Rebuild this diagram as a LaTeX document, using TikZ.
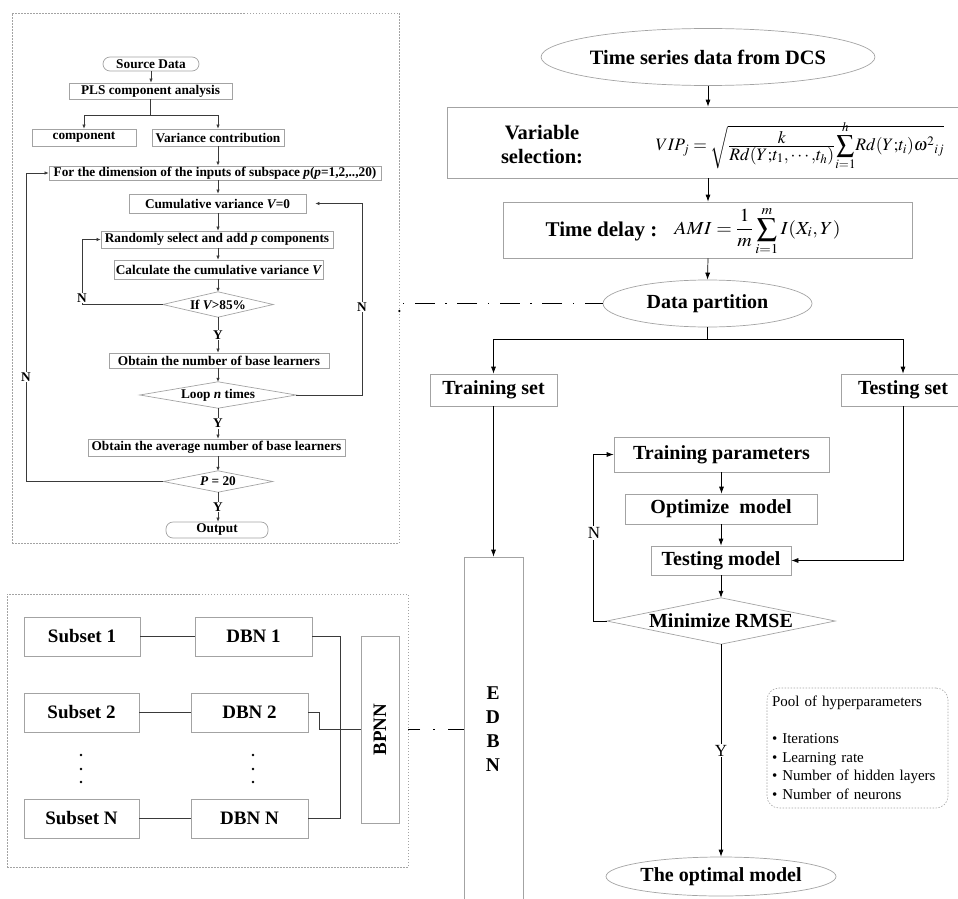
\documentclass[tikz,border=0pt]{standalone}
\usepackage{mathptmx}
\usepackage[no-math]{fontspec}
\setmainfont{Liberation Serif}
\usetikzlibrary{arrows.meta,shapes.geometric}
\definecolor{bord}{HTML}{A3A3A3}
\definecolor{ln}{HTML}{3A3A3A}
\newcommand{\dmd}[1]{\draw[draw=bord,line width=0.7pt] (#1.west)--(#1.north)--(#1.east)--(#1.south)--cycle;}
\begin{document}
\begin{tikzpicture}[x=1pt,y=-1pt,
  box/.style={draw=bord, line width=0.7pt, fill=white, inner sep=1pt, rectangle},
  lf/.style={font=\fontsize{13.3}{15}\selectfont\bfseries},
  rf/.style={font=\fontsize{20}{23}\selectfont\bfseries},
  sf/.style={font=\fontsize{19}{21}\selectfont\bfseries},
  stad/.style={box, rounded corners=7pt},
  ell/.style={ellipse, draw=bord, line width=0.7pt, inner sep=0pt},
  arrL/.style={draw=ln, line width=0.6pt, -{Latex[length=4pt,width=3.4pt]}},
  conL/.style={draw=ln, line width=0.6pt},
  arrR/.style={draw=black, line width=0.7pt, -{Latex[length=7pt,width=5pt]}},
  conR/.style={draw=ln, line width=0.7pt},
  lbl/.style={fill=white, inner sep=1pt},
  rlbl/.style={fill=white, inner sep=1pt, font=\fontsize{17}{19}\selectfont},
  grp/.style={draw=bord, line width=0.6pt, dash pattern=on 1.5pt off 1.5pt, inner sep=0pt},
  dashdot/.style={line width=1.7pt, draw=black},
]
\useasboundingbox (0,0) rectangle (958,899);

% ---------- group boxes ----------
\node[grp, minimum width=387pt, minimum height=530pt] (grpA) at (205.5,278) {};
\node[grp, minimum width=401pt, minimum height=273pt] (grpB) at (207.5,730.5) {};

% ---------- left flowchart ----------
\coordinate (cx) at (218,0);
\node[stad, lf, minimum width=96pt, minimum height=14pt] (src) at (151,64) {Source Data};
\node[box, lf, minimum width=163pt, minimum height=16pt] (pls) at (150.5,91) {PLS component analysis};
\node[box, lf, minimum width=104pt, minimum height=17pt] (comp) at (84,137.5) {component};
\node[box, lf, minimum width=132pt, minimum height=17pt] (varc) at (218,137.5) {Variance contribution};
\node[box, lf, minimum width=332pt, minimum height=14pt] (dim) at (215,173) {For the dimension of the inputs of subspace {\itshape p}({\itshape p}=1,2,..,20)};
\node[box, lf, minimum width=177pt, minimum height=19pt] (cum) at (217.5,203.5) {Cumulative variance {\itshape V}=0};
\node[box, lf, minimum width=232pt, minimum height=17pt] (rnd) at (217,239.5) {Randomly select and add {\itshape p} components};
\node[box, lf, minimum width=209pt, minimum height=19pt] (calc) at (218.5,269.5) {Calculate the cumulative variance {\itshape V}};
\node[lf, inner sep=0pt, minimum width=110pt, minimum height=25pt] (ifv) at (218,304.5) {If {\itshape V}>85\%};
\dmd{ifv}
\node[box, lf, minimum width=220pt, minimum height=15pt] (obt) at (219,360.5) {Obtain the number of base learners};
\node[lf, inner sep=0pt, minimum width=156pt, minimum height=26pt] (loop) at (218,395) {Loop {\itshape n} times};
\dmd{loop}
\node[box, lf, minimum width=257pt, minimum height=17pt] (avg) at (216.5,447.5) {Obtain the average number of base learners};
\node[lf, inner sep=0pt, minimum width=109pt, minimum height=21pt] (p20) at (218,481.5) {{\itshape P} = 20};
\dmd{p20}
\node[stad, lf, minimum width=102pt, minimum height=16pt] (out) at (217,530) {Output};

\coordinate (spl) at (150.5,115);
\draw[arrL] (src.south) -- (src.south |- pls.north);
\draw[conL] (pls.south) -- (spl);
\draw[arrL] (spl) -| (comp.north);
\draw[arrL] (spl) -| (varc.north);
\draw[arrL] (varc.south) -- (varc.south |- dim.north);
\draw[arrL] (cx |- dim.south) -- (cx |- cum.north);
\draw[arrL] (cx |- cum.south) -- (cx |- rnd.north);
\draw[arrL] (cx |- rnd.south) -- (cx |- calc.north);
\draw[arrL] (cx |- calc.south) -- (ifv.north);
\draw[arrL] (ifv.south) -- node[lbl,lf]{Y} (cx |- obt.north);
\draw[arrL] (cx |- obt.south) -- (loop.north);
\draw[arrL] (loop.south) -- node[lbl,lf]{Y} (cx |- avg.north);
\draw[arrL] (cx |- avg.south) -- (p20.north);
\draw[arrL] (p20.south) -- node[lbl,lf]{Y} (cx |- out.north);

\draw[arrL] (ifv.west) -- ++(-81,0) |- (rnd.west);
\node[lbl,lf] (n1) at (82,298) {N};
\draw[arrL] (loop.east) -- ++(66,0) |- ([xshift=9pt]cum.east);
\node[lbl,lf] (n2) at (362,307) {N};
\draw[arrL] (p20.west) -- ++(-137,0) |- (dim.west);
\node[lbl,lf] (n3) at (26,377) {N};

% ---------- bottom-left ensemble ----------
\node[box, sf, minimum width=116pt, minimum height=39pt] (s1) at (82,636.5) {Subset 1};
\node[box, sf, minimum width=117pt, minimum height=39pt] (d1) at (253.5,636.5) {DBN 1};
\node[box, sf, minimum width=115pt, minimum height=39pt] (s2) at (81.5,712.5) {Subset 2};
\node[box, sf, minimum width=117pt, minimum height=39pt] (d2) at (249.5,712.5) {DBN 2};
\node[box, sf, minimum width=115pt, minimum height=39pt] (sn) at (81.5,818.5) {Subset N};
\node[box, sf, minimum width=117pt, minimum height=39pt] (dn) at (249.5,818.5) {DBN N};
\node[box, sf, rotate=90, minimum width=187pt, minimum height=38pt] (bpnn) at (380,729.5) {BPNN};
\foreach \yy in {755,769,782} {\fill (81,\yy) circle (1.4pt); \fill (253,\yy) circle (1.4pt);}
\coordinate (jn) at (340,729.5);
\draw[conR] (s1) -- (d1);
\draw[conR] (s2) -- (d2);
\draw[conR] (sn) -- (dn);
\draw[conR] (d1.east) -| (jn);
\draw[conR] (dn.east) -| (jn);
\draw[conR] (d2.east) -- ++(11,0) |- (bpnn.north);

% ---------- EDBN ----------
\node[box, minimum width=59pt, minimum height=360pt] (edbn) at (493.5,737) {};
\node[font=\fontsize{19.5}{24}\selectfont\bfseries, align=center] (edbnt) at (493,729) {E\\D\\B\\N};

% ---------- right flowchart ----------
\node[ell, font=\fontsize{20.4}{23}\selectfont\bfseries, minimum width=279pt, minimum height=57pt] (ts) at (708,57) {Time series data from DCS};
\node[box, minimum width=518pt, minimum height=71pt] (vs) at (706,142.5) {};
\node[align=center, font=\fontsize{20.5}{24}\selectfont\bfseries] (vsl) at (542,145) {Variable\\selection:};
\node[font=\fontsize{17.5}{20}\selectfont] (vip) at (800,147) {$VIP_j=\sqrt{\frac{\textstyle k}{\textstyle Rd(Y{;}t_1{,}\cdots{,}t_h)}\smash{\displaystyle\sum_{i=1}^{h}}Rd(Y{;}t_i)\omega^{2}{}_{ij}}$};
\node[box, minimum width=409pt, minimum height=56pt] (td) at (707.5,230) {};
\node[font=\fontsize{21}{24}\selectfont\bfseries] (tdl) at (601.5,231) {Time delay :};
\node[font=\fontsize{20}{23}\selectfont] (ami) at (757.5,231) {\scalebox{1}[0.92]{$\displaystyle AMI=\frac{1}{m}\sum_{i=1}^{m}I(X_i,Y)$}};
\node[ell, rf, minimum width=209pt, minimum height=47pt] (dp) at (707.5,303.5) {Data partition};
\node[box, rf, minimum width=127pt, minimum height=32pt] (trs) at (493.5,390) {Training set};
\node[box, rf, minimum width=124pt, minimum height=32pt] (tes) at (903,390) {Testing set};
\node[box, rf, minimum width=215pt, minimum height=35pt] (tp) at (721.5,454.5) {Training parameters};
\node[box, rf, minimum width=192pt, minimum height=30pt] (om) at (721,509) {Optimize~ model};
\node[box, rf, minimum width=140pt, minimum height=29pt] (tm) at (721,560.5) {Testing model};
\node[rf, inner sep=0pt, minimum width=228pt, minimum height=46pt] (mr) at (721,621) {Minimize RMSE};
\dmd{mr}
\node[ell, rf, minimum width=230pt, minimum height=39pt] (opt) at (721,876.5) {The optimal model};
\node[draw=bord, line width=0.6pt, dash pattern=on 1.5pt off 1.5pt, rounded corners=12pt, text width=171pt, inner sep=5pt, minimum height=120pt, align=left, font=\fontsize{15}{18.5}\selectfont] (pool) at (857.5,748)
  {Pool of hyperparameters\\[18.5pt]\textbullet{} Iterations\\\textbullet{} Learning rate\\\textbullet{} Number of hidden layers\\\textbullet{} Number of neurons};

\draw[arrR] (ts.south) -- (ts.south |- vs.north);
\draw[arrR] (ts.south |- vs.south) -- (ts.south |- td.north);
\draw[arrR] (ts.south |- td.south) -- (dp.north);
\coordinate (sp2) at (707.5,339);
\draw[conR, draw=black] (dp.south) -- (sp2);
\draw[arrR] (sp2) -| (trs.north);
\draw[arrR] (sp2) -| (tes.north);
\draw[arrR] (trs.south) -- (edbn.north);
\draw[arrR] (tp.south) -- (tp.south |- om.north);
\draw[arrR] (om.south) -- (tm.north);
\draw[arrR] (tm.south) -- (mr.north);
\draw[arrR] (mr.south) -- node[rlbl]{Y} (opt.north);
\draw[arrR] (mr.west) -- ++(-13,0) |- (tp.west);
\node[rlbl] (n4) at (594,533) {N};
\draw[arrR] (tes.south) |- (tm.east);

% ---------- dash-dot links ----------
\draw[dashdot, dash pattern=on 20pt off 10.5pt on 1.5pt off 10.5pt, dash phase=2pt] (dp.west) -- ([xshift=4pt]grpA.east |- dp.west);
\fill (grpA.east |- 0,311) circle (1.3pt);
\draw[dashdot, dash pattern=on 16pt off 13pt on 1.5pt off 13pt on 20pt off 10pt] (edbn.west |- bpnn.south) -- (grpB.east |- bpnn.south);
\end{tikzpicture}
\end{document}
